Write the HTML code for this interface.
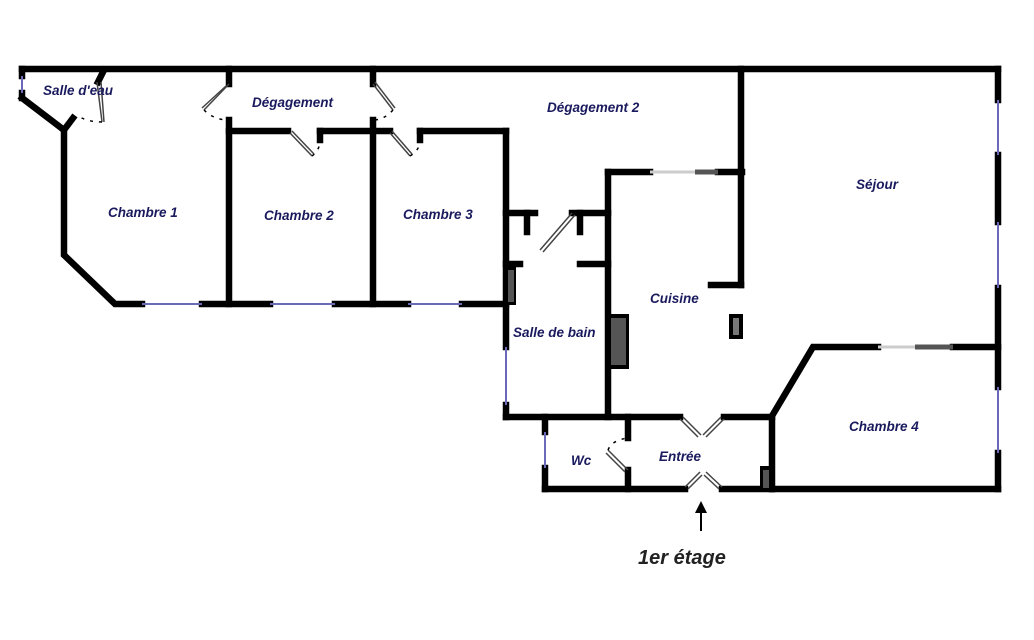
<!DOCTYPE html>
<html><head><meta charset="utf-8"><style>
body{margin:0;background:#fff}
svg{display:block}
text{font-family:"Liberation Sans",sans-serif;font-weight:bold;font-style:italic;fill:#1a1a5e;font-size:13.5px}
</style></head><body>
<svg width="1034" height="640" viewBox="0 0 1034 640">
<g stroke="#000" stroke-width="6.5" fill="none" stroke-linecap="square">
<line x1="22" y1="69" x2="998" y2="69"/>
<line x1="998" y1="69" x2="998" y2="100"/>
<line x1="998" y1="155" x2="998" y2="222"/>
<line x1="998" y1="288" x2="998" y2="387"/>
<line x1="998" y1="453" x2="998" y2="489"/>
<line x1="772" y1="489" x2="998" y2="489"/>
<line x1="22" y1="69" x2="22" y2="76"/>
<line x1="22" y1="93" x2="22" y2="98"/>
<polyline points="22,98 64,130 64,255 115,304 142,304"/>
<line x1="202" y1="304" x2="270" y2="304"/>
<line x1="335" y1="304" x2="408" y2="304"/>
<line x1="462" y1="304" x2="506" y2="304"/>
<line x1="104" y1="70" x2="98" y2="82"/>
<line x1="64" y1="130" x2="73" y2="118"/>
<line x1="229" y1="69" x2="229" y2="84"/>
<line x1="229" y1="120" x2="229" y2="304"/>
<line x1="373" y1="69" x2="373" y2="84"/>
<line x1="373" y1="120" x2="373" y2="304"/>
<line x1="229" y1="131" x2="288" y2="131"/>
<line x1="320" y1="131" x2="390" y2="131"/>
<line x1="420" y1="131" x2="506" y2="131"/>
<line x1="320" y1="131" x2="320" y2="140"/>
<line x1="420" y1="131" x2="420" y2="140"/>
<line x1="506" y1="131" x2="506" y2="347"/>
<line x1="506" y1="405" x2="506" y2="417"/>
<line x1="506" y1="213" x2="535" y2="213"/>
<line x1="572" y1="213" x2="608" y2="213"/>
<line x1="527" y1="213" x2="527" y2="232"/>
<line x1="580" y1="213" x2="580" y2="232"/>
<line x1="580" y1="264" x2="608" y2="264"/>
<line x1="506" y1="264" x2="520" y2="264"/>
<line x1="608" y1="172" x2="608" y2="417"/>
<line x1="608" y1="172" x2="650" y2="172"/>
<line x1="718" y1="172" x2="742" y2="172"/>
<line x1="741" y1="69" x2="741" y2="285"/>
<line x1="711" y1="285" x2="741" y2="285"/>
<line x1="506" y1="417" x2="680" y2="417"/>
<line x1="724" y1="417" x2="772" y2="417"/>
<polyline points="772,489 772,416 813,347 878,347"/>
<line x1="953" y1="347" x2="998" y2="347"/>
<line x1="628" y1="417" x2="628" y2="438"/>
<line x1="628" y1="470" x2="628" y2="489"/>
<line x1="545" y1="417" x2="545" y2="432"/>
<line x1="545" y1="468" x2="545" y2="489"/>
<line x1="545" y1="489" x2="685" y2="489"/>
<line x1="722" y1="489" x2="772" y2="489"/>
</g>
<g stroke="#6a6ab8" stroke-width="2">
<line x1="998" y1="100" x2="998" y2="155"/>
<line x1="998" y1="222" x2="998" y2="288"/>
<line x1="998" y1="387" x2="998" y2="453"/>
<line x1="22" y1="76" x2="22" y2="93"/>
<line x1="142" y1="304" x2="202" y2="304"/>
<line x1="270" y1="304" x2="335" y2="304"/>
<line x1="408" y1="304" x2="462" y2="304"/>
<line x1="506" y1="347" x2="506" y2="405"/>
<line x1="545" y1="432" x2="545" y2="468"/>
</g>
<g stroke="#ccc" stroke-width="3">
<line x1="650" y1="172" x2="695" y2="172"/>
<line x1="878" y1="347" x2="915" y2="347"/>
</g>
<g stroke="#555" stroke-width="5">
<line x1="695" y1="172" x2="718" y2="172"/>
<line x1="915" y1="347" x2="953" y2="347"/>
</g>
<rect x="506" y="267" width="10" height="38" fill="#000"/><rect x="508" y="270" width="6" height="32" fill="#555"/>
<rect x="607" y="314" width="22" height="55" fill="#000"/><rect x="611" y="318" width="15" height="47" fill="#555"/>
<rect x="729" y="314" width="14" height="25" fill="#000"/><rect x="733" y="318" width="6" height="17" fill="#777"/>
<rect x="760" y="466" width="12" height="24" fill="#000"/><rect x="763" y="470" width="6" height="18" fill="#555"/>
<g stroke="#444" stroke-width="1.5" fill="none">
<line x1="229" y1="84" x2="204" y2="110"/><line x1="226" y1="86" x2="202" y2="108"/>
<line x1="373" y1="84" x2="393" y2="110"/><line x1="375" y1="82" x2="395" y2="108"/>
<line x1="290" y1="133" x2="312" y2="156"/><line x1="292" y1="131" x2="314" y2="154"/>
<line x1="390" y1="133" x2="410" y2="156"/><line x1="392" y1="131" x2="412" y2="154"/>
<line x1="97" y1="82" x2="102" y2="122"/><line x1="101" y1="82" x2="104" y2="122"/>
<line x1="572" y1="213" x2="540" y2="250"/><line x1="575" y1="215" x2="543" y2="252"/>
<line x1="628" y1="470" x2="608" y2="450"/><line x1="625" y1="472" x2="606" y2="453"/>
<line x1="680" y1="419" x2="698" y2="437"/><line x1="683" y1="417" x2="701" y2="435"/>
<line x1="724" y1="419" x2="706" y2="437"/><line x1="721" y1="417" x2="703" y2="435"/>
<line x1="685" y1="487" x2="700" y2="472"/><line x1="688" y1="489" x2="702" y2="475"/>
<line x1="722" y1="487" x2="706" y2="472"/><line x1="719" y1="489" x2="704" y2="475"/>
</g>
<g stroke="#000" stroke-width="1.5" stroke-dasharray="3,6" fill="none">
<path d="M204,110 Q214,120 229,120"/>
<path d="M393,110 Q384,120 373,120"/>
<path d="M312,156 Q320,150 320,140"/>
<path d="M410,156 Q420,150 420,140"/>
<path d="M102,122 Q86,122 77,115"/>
<path d="M608,450 Q612,440 628,438"/>
</g>
<text x="43" y="95">Salle d'eau</text>
<text x="252" y="107">Dégagement</text>
<text x="547" y="112">Dégagement 2</text>
<text x="108" y="217">Chambre 1</text>
<text x="264" y="220">Chambre 2</text>
<text x="403" y="219">Chambre 3</text>
<text x="856" y="189">Séjour</text>
<text x="650" y="303">Cuisine</text>
<text x="513" y="337">Salle de bain</text>
<text x="849" y="431">Chambre 4</text>
<text x="571" y="465">Wc</text>
<text x="659" y="461">Entrée</text>
<line x1="701" y1="531" x2="701" y2="510" stroke="#000" stroke-width="2"/>
<polygon points="701,501 695,513 707,513" fill="#000"/>
<text x="638" y="564" style="font-size:20px;fill:#222">1er étage</text>
</svg>
</body></html>
